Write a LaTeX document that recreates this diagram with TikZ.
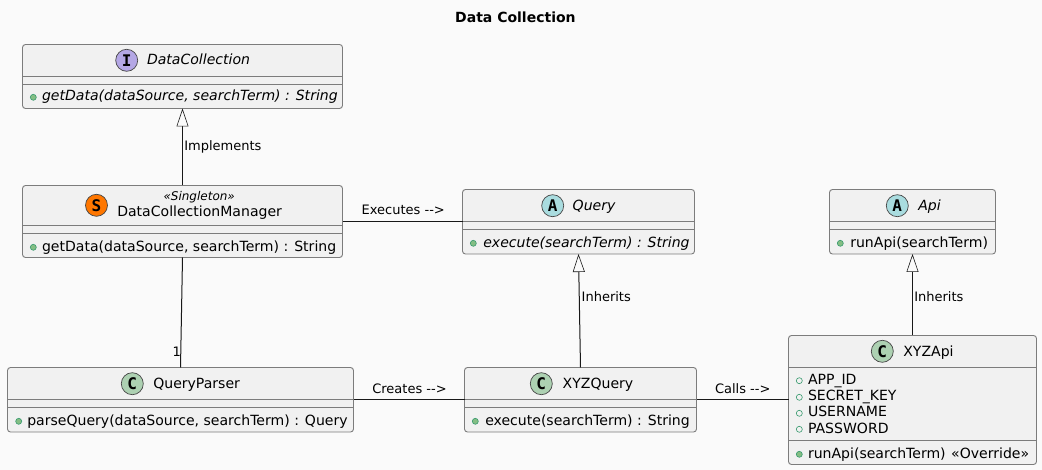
\documentclass[tikz,border=0pt]{standalone}
\usepackage{fontspec}
\setmainfont{DejaVu Sans}
\newfontfamily\iconfont{DejaVu Sans Mono}[BoldFont={DejaVu Sans Mono Bold}]
\usetikzlibrary{arrows.meta,calc}
\definecolor{bgc}{HTML}{FAFAFA}
\definecolor{boxc}{HTML}{F1F1F1}
\definecolor{linec}{HTML}{181818}
\definecolor{borderc}{HTML}{7C7C7C}
\definecolor{ifacec}{HTML}{B4A7E5}
\definecolor{absc}{HTML}{A9DCDF}
\definecolor{classc}{HTML}{ADD1B2}
\definecolor{singc}{HTML}{FF7700}
\definecolor{dotf}{HTML}{84BE84}
\definecolor{dots}{HTML}{038048}
\newcommand{\umlclass}[5]{%
  \node[clsbox,minimum width={#4-#2},minimum height={#5-#3}] (#1) at ({(#2+#4)/2},{(#3+#5)/2}) {};}
\newcommand{\divider}[2]{\draw[divline] (#1.west |- 0,#2) -- (#1.east |- 0,#2);}
\tikzset{
  x=1pt,y=-1pt,
  clsbox/.style={draw=borderc,line width=0.9pt,fill=boxc,rounded corners=3pt,inner sep=0pt,outer sep=0pt},
  divline/.style={draw=borderc,line width=0.9pt},
  txt/.style={anchor=base west,inner sep=0pt,outer sep=0pt,text=black,font=\fontsize{14.05}{16}\selectfont},
  itxt/.style={txt,font=\fontsize{14.05}{16}\selectfont\itshape},
  lbl/.style={anchor=base west,inner sep=0pt,outer sep=0pt,text=black,font=\fontsize{13}{15}\selectfont},
  icon/.style={circle,draw=linec!80!white,line width=0.7pt,minimum size=22pt,inner sep=0pt,outer sep=0pt,font=\iconfont\bfseries\fontsize{16}{16}\selectfont},
  pubm/.style={circle,draw=dots!80!white,fill=dotf,line width=0.6pt,minimum size=6pt,inner sep=0pt},
  puba/.style={circle,draw=dots!80!white,fill=none,line width=0.6pt,minimum size=6pt,inner sep=0pt},
  conn/.style={draw=linec,line width=1pt},
  inherit/.style={conn,-{Triangle[length=18pt,width=12pt,fill=bgc,line width=0.6pt]}},
}
\begin{document}
\begin{tikzpicture}
\useasboundingbox (0,0) rectangle (1042,470);
\fill[bgc] (0,0) rectangle (1042,470);

\node[anchor=base west,inner sep=0pt,font=\fontsize{14}{16}\selectfont\bfseries] (title) at (455,23) {Data Collection};

% classes
\umlclass{dc}{22.5}{44.5}{342.5}{108.5}
\divider{dc}{76.5}\divider{dc}{84.5}
\node[icon,fill=ifacec] (dci) at (126.7,60.3) {I};
\node[itxt] (dcn) at (147,65) {DataCollection};
\node[pubm] (dcd) at (33.3,97.3) {};
\node[itxt] (dcm) at (42,101) {getData(dataSource, searchTerm) : String};

\umlclass{mgr}{22.5}{185.5}{342.5}{257.5}
\divider{mgr}{225.5}\divider{mgr}{233.5}
\node[icon,fill=singc] (mgri) at (96.5,205.3) {S};
\node[anchor=base west,inner sep=0pt,font=\fontsize{12}{14}\selectfont\itshape] (mgrs) at (163.3,200.7) {«Singleton»};
\node[txt] (mgrn) at (117.3,216.7) {DataCollectionManager};
\node[pubm] (mgrd) at (33.3,247.3) {};
\node[txt] (mgrm) at (42,251.3) {getData(dataSource, searchTerm) : String};

\umlclass{qp}{7.5}{367.5}{353.5}{432}
\divider{qp}{399.5}\divider{qp}{407.5}
\node[icon,fill=classc] (qpi) at (132.3,383.7) {C};
\node[txt] (qpn) at (153.3,388.7) {QueryParser};
\node[pubm] (qpd) at (18.7,421.3) {};
\node[txt] (qpm) at (27.3,425.3) {parseQuery(dataSource, searchTerm) : Query};

\umlclass{q}{462.5}{189.5}{694.5}{254}
\divider{q}{221.5}\divider{q}{229.5}
\node[icon,fill=absc] (qi) at (552.7,205.7) {A};
\node[itxt] (qn) at (572.7,210.7) {Query};
\node[pubm] (qd) at (473.3,243.3) {};
\node[itxt] (qm) at (483.3,247.3) {execute(searchTerm) : String};

\umlclass{xq}{464.5}{367.5}{696.5}{432}
\divider{xq}{399.5}\divider{xq}{407.5}
\node[icon,fill=classc] (xqi) at (541.3,383.7) {C};
\node[txt] (xqn) at (562.7,388.7) {XYZQuery};
\node[pubm] (xqd) at (475.3,421.3) {};
\node[txt] (xqm) at (485.3,425.3) {execute(searchTerm) : String};

\umlclass{api}{829.5}{189.5}{995.5}{254}
\divider{api}{221.5}\divider{api}{229.5}
\node[icon,fill=absc] (apii) at (897.3,205.7) {A};
\node[itxt] (apin) at (918.3,210.7) {Api};
\node[pubm] (apid) at (840.3,243.3) {};
\node[txt] (apim) at (850.3,247.3) {runApi(searchTerm)};

\umlclass{xa}{788.5}{335.5}{1036.5}{464.5}
\divider{xa}{367.5}\divider{xa}{440.5}
\node[icon,fill=classc] (xai) at (882.3,351.3) {C};
\node[txt] (xan) at (903.3,356.7) {XYZApi};
\node[puba] (xad1) at (799.3,380.7) {};
\node[txt] (xaa1) at (808,384.3) {APP\_ID};
\node[puba] (xad2) at (799.3,397.3) {};
\node[txt] (xaa2) at (808,400.7) {SECRET\_KEY};
\node[puba] (xad3) at (799.3,413.3) {};
\node[txt] (xaa3) at (808,416.7) {USERNAME};
\node[puba] (xad4) at (799.3,429.3) {};
\node[txt] (xaa4) at (808,433) {PASSWORD};
\node[pubm] (xad5) at (799.3,454.3) {};
\node[txt] (xam) at (808,458) {runApi(searchTerm) \kern1pt«Override»};

% connectors
\draw[inherit] (mgr.north) -- (dc.south);
\draw[conn] (mgr.south) -- (qp.north);
\draw[conn] (mgr.east) -- ([yshift=.25pt]q.west);
\draw[inherit] (xq.north) -- (q.south);
\draw[conn] ([yshift=.25pt]qp.east) -- ([yshift=.25pt]xq.west);
\draw[conn] ([yshift=.25pt]xq.east) -- ([yshift=.5pt]xa.west);
\draw[inherit] (xa.north) -- (api.south);

% connector labels
\node[lbl] (l1) at (184.3,150.7) {Implements};
\node[lbl] (l2) at (361.7,215) {Executes -{}->};
\node[lbl] (l3) at (172.7,356.7) {1};
\node[lbl] (l4) at (581.7,301.3) {Inherits};
\node[lbl] (l5) at (372.3,393.3) {Creates -{}->};
\node[lbl] (l6) at (715,393.3) {Calls -{}->};
\node[lbl] (l7) at (914.3,301.3) {Inherits};
\end{tikzpicture}
\end{document}
